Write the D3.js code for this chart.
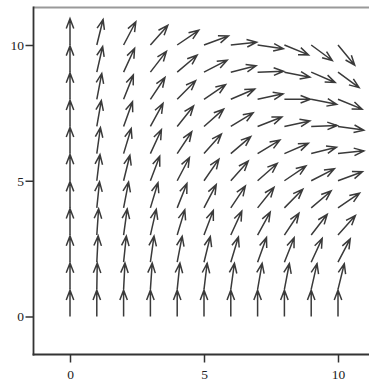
<!DOCTYPE html>
<html>
<head>
<meta charset="utf-8">
<script src="https://cdn.jsdelivr.net/npm/d3@7"></script>
<style>
  html, body { margin: 0; padding: 0; background: #fff; }
  svg { display: block; }
</style>
</head>
<body>
<svg id="chart" width="369" height="382"></svg>
<script>
// Grid of arrow tails
const xValues = [0, 1, 2, 3, 4, 5, 6, 7, 8, 9, 10];
const yValues = [0, 1, 2, 3, 4, 5, 6, 7, 8, 9, 10];
// Arrow direction, degrees clockwise from straight up, one row per y value (y = 0 .. 10)
const angleRow0  = [0, 0, 0, 0, 0, 0, 0, 0, 0, 0, 0];
const angleRow1  = [0, 1, 3, 4, 6, 7, 8, 10, 11, 13, 14];
const angleRow2  = [0, 3, 6, 8, 11, 14, 17, 20, 22, 25, 28];
const angleRow3  = [0, 4, 8, 13, 17, 21, 25, 29, 34, 38, 42];
const angleRow4  = [0, 6, 11, 17, 22, 28, 34, 39, 45, 50, 56];
const angleRow5  = [0, 7, 14, 21, 28, 35, 42, 49, 56, 63, 70];
const angleRow6  = [0, 8, 17, 25, 34, 42, 50, 59, 67, 76, 84];
const angleRow7  = [0, 10, 20, 29, 39, 49, 59, 69, 78, 88, 98];
const angleRow8  = [0, 11, 22, 34, 45, 56, 67, 78, 90, 101, 112];
const angleRow9  = [0, 13, 25, 38, 50, 63, 76, 88, 101, 113, 126];
const angleRow10 = [0, 14, 28, 42, 56, 70, 84, 98, 112, 126, 140];
const angleRows = [angleRow0, angleRow1, angleRow2, angleRow3, angleRow4, angleRow5,
                   angleRow6, angleRow7, angleRow8, angleRow9, angleRow10];
const arrowLength = [0.97];
const xTicks = [0, 5, 10];
const yTicks = [0, 5, 10];

const svg = d3.select("#chart");
const x = d3.scaleLinear().domain([0, 10]).range([70, 338]);
const y = d3.scaleLinear().domain([0, 10]).range([316.5, 45]);

const frameLeft = 33.5, frameBottom = 354.5, frameTop = 7.5, frameRight = 369;

// frame
svg.append("line").attr("x1", frameLeft).attr("x2", frameRight).attr("y1", frameTop).attr("y2", frameTop)
  .attr("stroke", "#999").attr("stroke-width", 2.2);
svg.append("line").attr("x1", frameLeft).attr("x2", frameLeft).attr("y1", frameTop - 1).attr("y2", frameBottom + 1)
  .attr("stroke", "#333").attr("stroke-width", 1.8);
svg.append("line").attr("x1", frameLeft - 0.9).attr("x2", frameRight).attr("y1", frameBottom).attr("y2", frameBottom)
  .attr("stroke", "#333").attr("stroke-width", 1.8);

// axes
const fontFam = "'Liberation Serif', 'Times New Roman', serif";
const yAxis = svg.append("g").attr("transform", `translate(${frameLeft},0)`)
  .call(d3.axisLeft(y).tickValues(yTicks).tickSize(8).tickPadding(1.5).tickFormat(d3.format("d")));
const xAxis = svg.append("g").attr("transform", `translate(0,${frameBottom})`)
  .call(d3.axisBottom(x).tickValues(xTicks).tickSize(8).tickPadding(6.5).tickFormat(d3.format("d")));
[xAxis, yAxis].forEach(g => {
  g.select(".domain").remove();
  g.selectAll(".tick line").attr("stroke", "#333").attr("stroke-width", 1.5);
  g.selectAll(".tick text").attr("fill", "#222").style("font-family", fontFam).style("font-size", "13.5px");
});

// arrows
const data = [];
yValues.forEach((yv, j) => xValues.forEach((xv, i) => data.push({ x: xv, y: yv, a: angleRows[j][i] })));

const headLen = 10.5, headAng = 21 * Math.PI / 180;
svg.append("g").selectAll("path").data(data).join("path")
  .attr("d", d => {
    const r = d.a * Math.PI / 180;
    const L = arrowLength[0];
    const x0 = x(d.x), y0 = y(d.y);
    const x1 = x(d.x + L * Math.sin(r)), y1 = y(d.y + L * Math.cos(r));
    const ang = Math.atan2(y1 - y0, x1 - x0);
    const bx1 = x1 - headLen * Math.cos(ang - headAng), by1 = y1 - headLen * Math.sin(ang - headAng);
    const bx2 = x1 - headLen * Math.cos(ang + headAng), by2 = y1 - headLen * Math.sin(ang + headAng);
    return `M${x0},${y0}L${x1},${y1}M${bx1},${by1}L${x1},${y1}L${bx2},${by2}`;
  })
  .attr("fill", "none")
  .attr("stroke", "#3a3a3a")
  .attr("stroke-width", 1.5)
  .attr("stroke-linejoin", "miter");
</script>
</body>
</html>
